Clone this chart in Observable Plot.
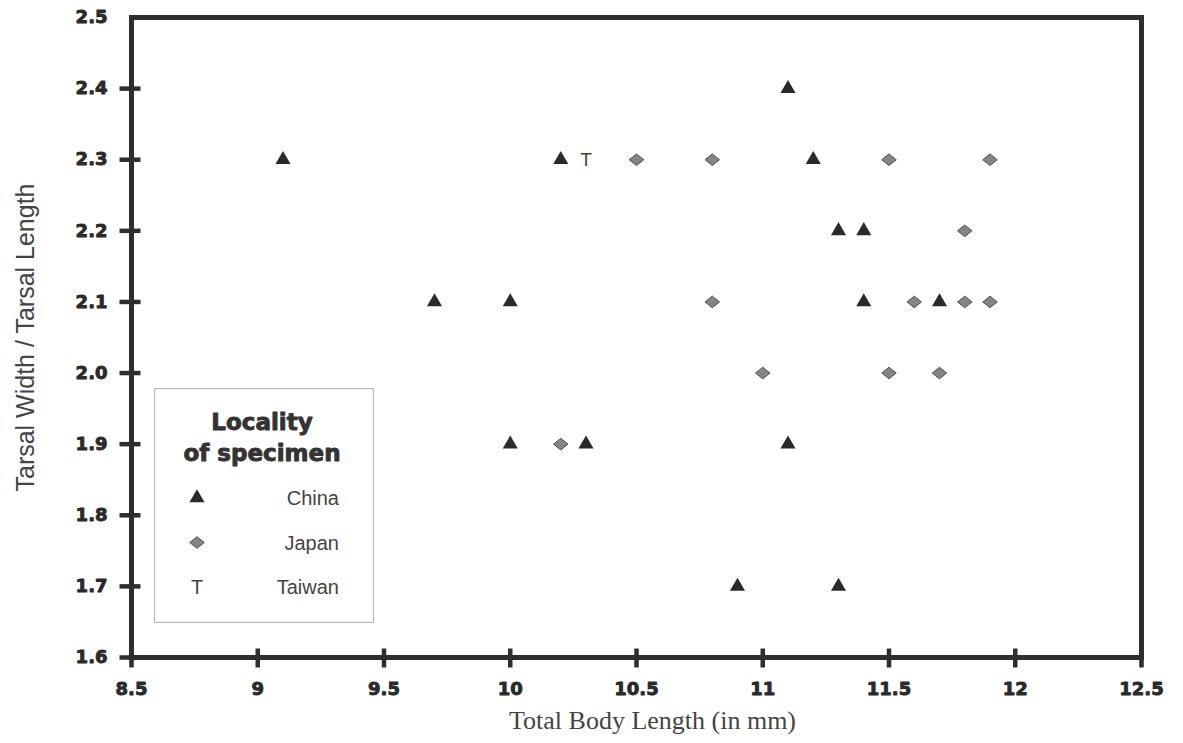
<!DOCTYPE html>
<html>
<head>
<meta charset="utf-8">
<script src="https://cdn.jsdelivr.net/npm/d3@7"></script>
<script src="https://cdn.jsdelivr.net/npm/@observablehq/plot@0.6"></script>
<style>
  html, body { margin: 0; padding: 0; background: #fff; }
  #wrap { position: relative; width: 1183px; height: 743px; }
  #legend { position: absolute; left: 154px; top: 388px; }
</style>
</head>
<body>
<div id="wrap"><div id="chart"></div><div id="legend"></div></div>
<script>
// ---- data ----
const chinaX = [9.1, 10.2, 11.2, 11.1, 11.3, 11.4, 9.7, 10.0, 11.4, 11.7, 10.0, 10.3, 11.1, 10.9, 11.3];
const chinaY = [2.3, 2.3, 2.3, 2.4, 2.2, 2.2, 2.1, 2.1, 2.1, 2.1, 1.9, 1.9, 1.9, 1.7, 1.7];
const japanX = [10.5, 10.8, 11.5, 11.9, 11.8, 10.8, 11.6, 11.8, 11.9, 11.0, 11.5, 11.7, 10.2];
const japanY = [2.3, 2.3, 2.3, 2.3, 2.2, 2.1, 2.1, 2.1, 2.1, 2.0, 2.0, 2.0, 1.9];
const taiwanX = [10.3];
const taiwanY = [2.3];
const xTicks = [8.5, 9, 9.5, 10, 10.5, 11, 11.5, 12, 12.5];
const yTicks = [1.6, 1.7, 1.8, 1.9, 2.0, 2.1, 2.2, 2.3, 2.4, 2.5];
const localities = ["China", "Japan", "Taiwan"];
const legendTitle = ["Locality", "of specimen"];
const xLabel = "Total Body Length (in mm)";
const yLabel = "Tarsal Width / Tarsal Length";

const china = chinaX.map((x, i) => ({x, y: chinaY[i]}));
const japan = japanX.map((x, i) => ({x, y: japanY[i]}));
const taiwan = taiwanX.map((x, i) => ({x, y: taiwanY[i]}));

const diamond = {
  draw(context, size) {
    const w = Math.sqrt(size) * 0.62, h = w * 0.8;
    context.moveTo(0, -h);
    context.lineTo(w, 0);
    context.lineTo(0, h);
    context.lineTo(-w, 0);
    context.closePath();
  }
};
// tick glyphs crossing the frame
const vbar = { draw(c) { c.moveTo(0, -9); c.lineTo(0, 10); } };
const hbar = { draw(c) { c.moveTo(-12, 0); c.lineTo(9, 0); } };

const dark = "#2e2e2e";
const tickFont = "DejaVu Sans, sans-serif";
const sans = "Liberation Sans, Arial, sans-serif";

const chart = Plot.plot({
  width: 1183,
  height: 743,
  marginLeft: 131,
  marginRight: 42,
  marginTop: 17,
  marginBottom: 86,
  style: {background: "#fff", overflow: "visible"},
  x: {domain: [8.5, 12.5]},
  y: {domain: [1.6, 2.5]},
  marks: [
    // tick labels
    Plot.axisX({ticks: xTicks, tickSize: 0, tickPadding: 25, tickFormat: d => String(d), fontSize: 18, fontWeight: "bold", fontFamily: tickFont, fill: "#2a2a2a", label: null}),
    Plot.axisY({ticks: yTicks, tickSize: 0, tickPadding: 24, tickFormat: d3.format(".1f"), fontSize: 18, fontWeight: "bold", fontFamily: tickFont, fill: "#2a2a2a", label: null}),
    Plot.frame({stroke: dark, strokeWidth: 5}),
    // crossing ticks
    Plot.dot(xTicks, {x: d => d, frameAnchor: "bottom", symbol: vbar, fill: "none", stroke: dark, strokeWidth: 4.5}),
    Plot.dot(yTicks.filter(d => d < 2.5), {y: d => d, frameAnchor: "left", symbol: hbar, fill: "none", stroke: dark, strokeWidth: 4.5}),
    // data
    Plot.dot(china, {x: "x", y: "y", symbol: "triangle", r: 5.6, fill: "#2a2a2a", stroke: "none"}),
    Plot.dot(japan, {x: "x", y: "y", symbol: diamond, r: 6.6, fill: "#858585", stroke: "#505050", strokeWidth: 1}),
    Plot.text(taiwan, {x: "x", y: "y", text: () => "T", fontSize: 19, fontFamily: sans, fill: "#444"}),
    // axis titles
    Plot.text([yLabel], {frameAnchor: "left", dx: -106, rotate: -90, textAnchor: "middle", lineAnchor: "middle", text: d => d, fontSize: 25, fontFamily: sans, fill: "#444"}),
    Plot.text([xLabel], {frameAnchor: "bottom", dx: 16, dy: 63, textAnchor: "middle", lineAnchor: "middle", text: d => d, fontSize: 26, fontFamily: "Liberation Serif, Times New Roman, serif", fill: "#444"})
  ]
});
// embolden tick labels (heavy face in the original)
d3.select(chart).selectAll('g[aria-label$="tick label"]')
  .attr("stroke", "#2a2a2a").attr("stroke-width", 0.9).attr("stroke-linejoin", "round");
document.getElementById("chart").appendChild(chart);

// ---- legend (inside plot area) ----
const lw = 220, lh = 235;
const lsvg = d3.select("#legend").append("svg").attr("width", lw).attr("height", lh);
lsvg.append("rect").attr("x", 0.5).attr("y", 0.5).attr("width", lw - 1).attr("height", lh - 1)
  .attr("fill", "#fff").attr("stroke", "#b8b8b8").attr("stroke-width", 1.2);
lsvg.selectAll("text.title").data(legendTitle).join("text")
  .attr("class", "title")
  .attr("x", 108).attr("y", (d, i) => 42 + i * 31)
  .attr("text-anchor", "middle")
  .attr("font-family", tickFont).attr("font-weight", "bold").attr("font-size", 23)
  .attr("fill", "#333").attr("stroke", "#333").attr("stroke-width", 0.9).attr("stroke-linejoin", "round")
  .text(d => d);
const rowY = i => 110 + i * 44.5;
const g = lsvg.selectAll("g.item").data(localities).join("g").attr("class", "item")
  .attr("transform", (d, i) => `translate(0,${rowY(i)})`);
g.append("text").attr("x", 185).attr("y", 0).attr("dy", "0.36em").attr("text-anchor", "end")
  .attr("font-family", sans).attr("font-size", 20).attr("fill", "#444")
  .text(d => d);
g.each(function(d) {
  const s = d3.select(this);
  if (d === "China") {
    s.append("path").attr("transform", "translate(43,0)").attr("d", d3.symbol(d3.symbolTriangle, Math.PI * 5.6 * 5.6)()).attr("fill", "#2a2a2a");
  } else if (d === "Japan") {
    const p = d3.path(); diamond.draw(p, Math.PI * 6.6 * 6.6);
    s.append("path").attr("transform", "translate(43,0)").attr("d", p.toString()).attr("fill", "#858585").attr("stroke", "#505050");
  } else {
    s.append("text").attr("x", 43).attr("y", 0).attr("dy", "0.36em").attr("text-anchor", "middle")
      .attr("font-family", sans).attr("font-size", 20).attr("fill", "#444").text("T");
  }
});
</script>
</body>
</html>
